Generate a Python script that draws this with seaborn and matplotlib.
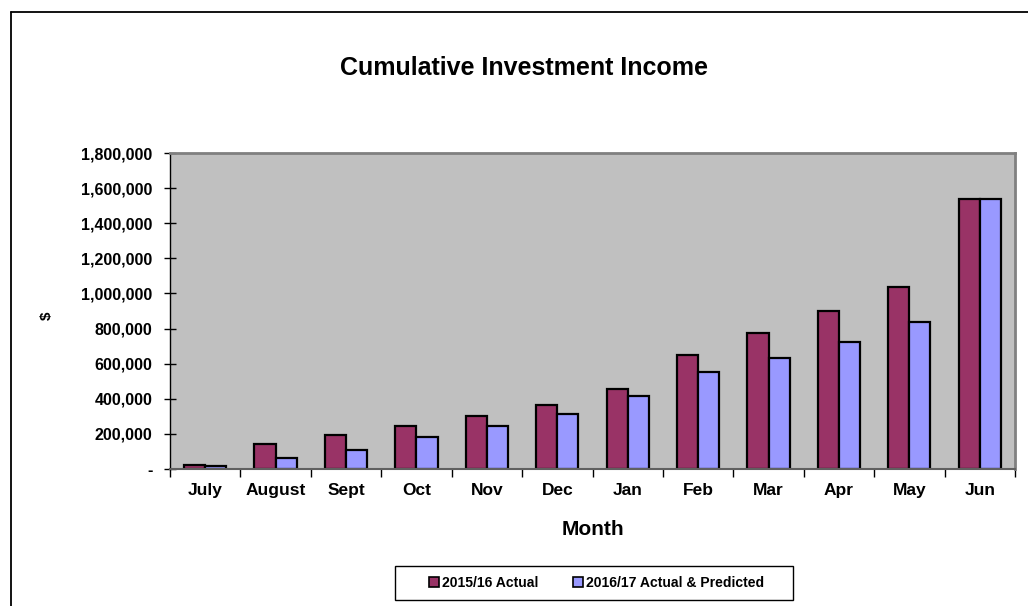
import matplotlib
matplotlib.use("Agg")
import matplotlib.pyplot as plt
import seaborn as sns
import pandas as pd
from matplotlib.ticker import FuncFormatter, FixedLocator
from matplotlib.lines import Line2D
from matplotlib.patches import Rectangle

months = ["July", "August", "Sept", "Oct", "Nov", "Dec", "Jan", "Feb", "Mar", "Apr", "May", "Jun"]
actual_1516 = [25000, 144000, 192000, 243000, 300000, 366000, 455000, 651000, 774000, 901000, 1038000, 1539000]
actual_pred_1617 = [19000, 65000, 110000, 184000, 243000, 315000, 417000, 552000, 634000, 723000, 839000, 1539000]
series_names = ["2015/16 Actual", "2016/17 Actual & Predicted"]
colors = ["#993366", "#9999FF"]

df = pd.DataFrame({
    "Month": months * 2,
    "Value": actual_1516 + actual_pred_1617,
    "Series": [series_names[0]] * len(months) + [series_names[1]] * len(months),
})

sns.set_theme(style="white")
plt.rcParams["font.family"] = ["Liberation Sans", "DejaVu Sans"]
plt.rcParams["font.weight"] = "bold"
plt.rcParams["text.color"] = "black"
plt.rcParams["axes.labelcolor"] = "black"
plt.rcParams["xtick.color"] = "black"
plt.rcParams["ytick.color"] = "black"

fig = plt.figure(figsize=(10.28, 6.06), dpi=100)
ax = fig.add_axes([170 / 1028, 1 - 469 / 606, (1015 - 170) / 1028, (469 - 153) / 606])
ax.set_facecolor("#C0C0C0")

sns.barplot(data=df, x="Month", y="Value", hue="Series", order=months,
            hue_order=series_names, palette=colors, width=0.6, gap=0,
            edgecolor="black", linewidth=1.6, ax=ax, legend=False, saturation=1)

ax.set_ylim(0, 1800000)
ax.set_xlim(-0.5, 11.5)
ax.set_yticks(range(0, 1800001, 200000))
ax.yaxis.set_major_formatter(FuncFormatter(lambda v, p: "-" if v == 0 else f"{int(v):,}"))
ax.tick_params(axis="y", which="major", direction="inout", length=9, width=1, color="black",
               labelsize=11.5, pad=8, left=True, labelcolor="black")
ax.tick_params(axis="x", which="major", length=0, labelsize=12.5, pad=10, labelcolor="black")
ax.xaxis.set_minor_locator(FixedLocator([i - 0.5 for i in range(13)]))
ax.tick_params(axis="x", which="minor", direction="out", length=6, width=1, color="black", bottom=True)
for lab in ax.get_xticklabels() + ax.get_yticklabels():
    lab.set_fontweight("bold")

for side in ["top", "right"]:
    ax.spines[side].set_color("#808080")
    ax.spines[side].set_linewidth(2)
ax.spines["left"].set_color("black")
ax.spines["left"].set_linewidth(1)
ax.spines["bottom"].set_color("#606060")
ax.spines["bottom"].set_linewidth(1.5)

ax.set_xlabel("Month", fontsize=15, fontweight="bold", labelpad=16, color="black")
ax.set_ylabel("")
fig.text(47 / 1028, 1 - 316 / 606, "$", rotation=90, fontsize=11, fontweight="bold",
         ha="center", va="center", color="black")
fig.text(524 / 1028, 1 - 68 / 606, "Cumulative Investment Income", fontsize=18,
         fontweight="bold", ha="center", va="center", color="black")

# legend box
fig.add_artist(Rectangle((395 / 1028, 1 - 600 / 606), (793 - 395) / 1028, 34 / 606,
                         transform=fig.transFigure, facecolor="white", edgecolor="black",
                         linewidth=1, zorder=1))
handles = [Line2D([0], [0], marker="s", linestyle="none", markersize=7,
                  markerfacecolor=c, markeredgecolor="black", markeredgewidth=1.2) for c in colors]
leg = fig.legend(handles, series_names, loc="center", bbox_to_anchor=(596 / 1028, 1 - 583 / 606),
                 ncol=2, frameon=False, handletextpad=0.1, columnspacing=2.4, borderpad=0.5,
                 handlelength=0.9, borderaxespad=0, prop={"weight": "bold", "size": 10.1})
leg.set_zorder(2)
for t in leg.get_texts():
    t.set_color("black")

# outer chart border
fig.add_artist(Line2D([10.5 / 1028, 10.5 / 1028], [0, 1 - 12 / 606], color="black", lw=1.3,
                      transform=fig.transFigure))
fig.add_artist(Line2D([10.5 / 1028, 1], [1 - 12 / 606, 1 - 12 / 606], color="black", lw=1.3,
                      transform=fig.transFigure))

fig.savefig("out.png", dpi=100)
